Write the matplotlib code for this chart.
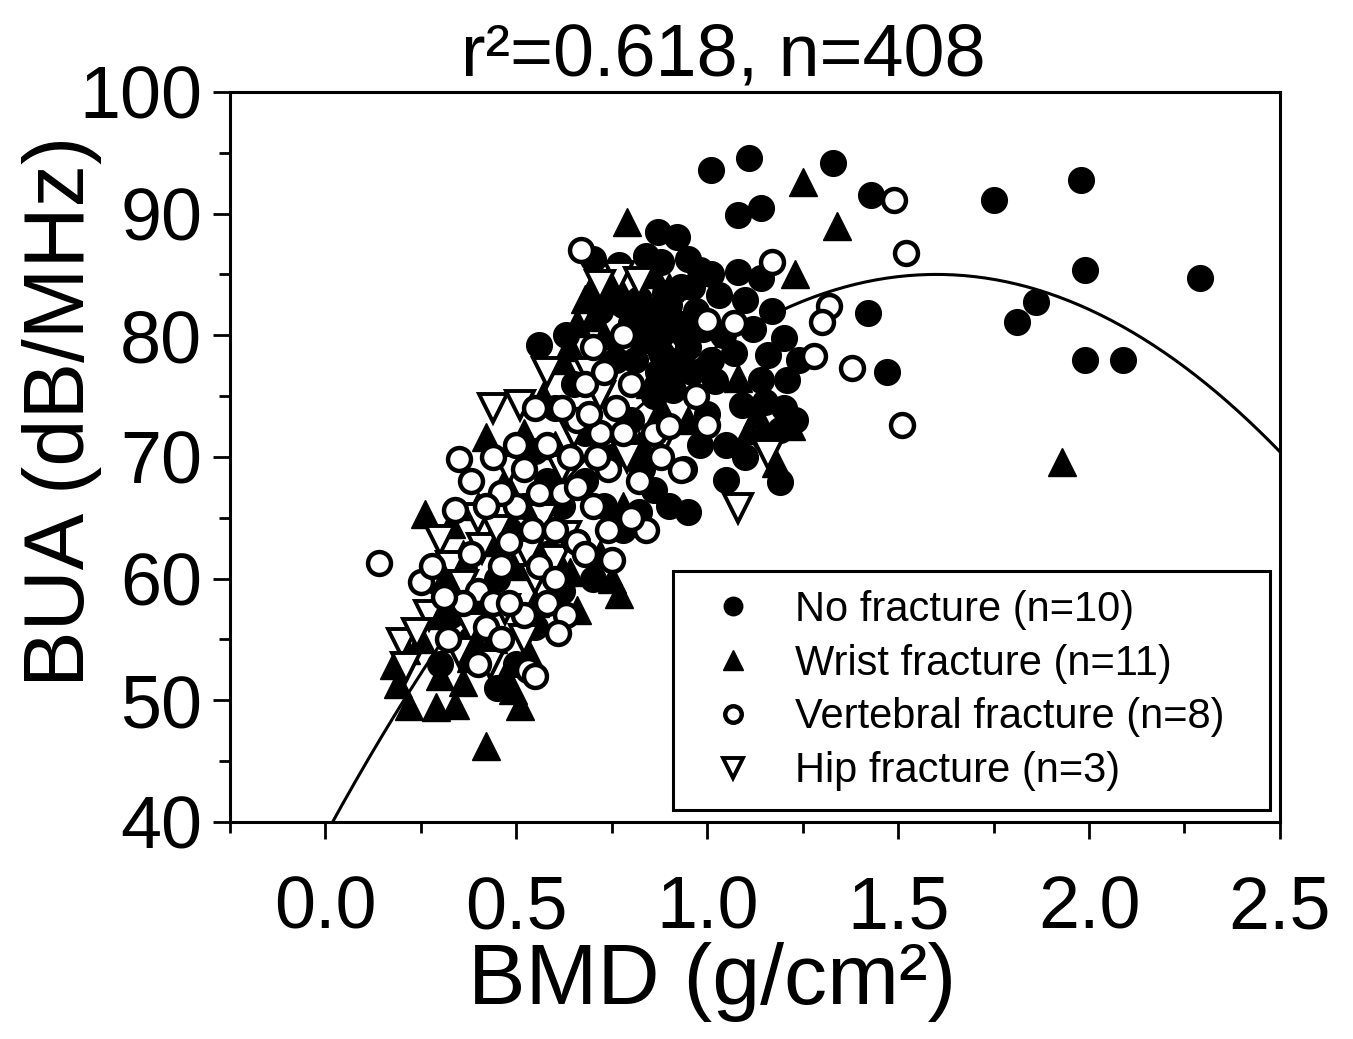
import matplotlib
matplotlib.use("Agg")
import matplotlib.pyplot as plt
import numpy as np

plt.rcParams['font.family'] = ['Liberation Sans', 'DejaVu Sans']

# No fracture (filled circles)
none_x = [1.01, 1.11, 1.08, 1.14, 1.33, 1.43, 1.75, 1.98, 1.99, 2.29, 1.81, 1.86, 1.99, 2.09,
          1.42, 1.47, 1.16, 1.20, 1.19, 1.05, 1.14, 1.15, 1.09, 1.02, 1.01, 0.95, 0.86, 0.56,
          0.70, 0.77, 0.87, 0.92, 0.95, 0.98, 1.01, 1.08, 1.14, 1.03, 1.10, 1.21, 1.24, 1.19,
          0.85, 0.88, 0.90, 0.92, 0.95, 0.97, 0.87, 0.93, 0.89, 0.83, 0.80, 0.96, 0.99, 0.91,
          0.86, 1.00, 0.98, 0.94, 0.90, 0.82, 0.78, 0.73, 0.70, 0.66, 0.62, 0.58, 0.55, 0.52,
          0.48, 0.45, 0.40, 0.38, 0.33, 0.30, 0.60, 0.65, 0.68, 0.75, 0.80, 0.83, 0.63, 0.72,
          0.76, 0.84, 0.88, 1.04, 1.07, 1.12, 1.17, 1.20, 1.23, 1.05, 1.10, 1.15, 0.55, 0.50,
          0.45, 0.62, 0.58, 0.68, 0.82, 0.86, 0.90, 0.94, 0.88, 0.92, 0.84, 0.96, 0.78, 0.81]
none_y = [93.6, 94.6, 89.9, 90.5, 94.2, 91.5, 91.1, 92.8, 85.4, 84.7, 81.1, 82.7, 78.0, 78.0,
          81.8, 77.0, 78.4, 79.8, 67.9, 68.1, 76.3, 74.5, 74.3, 76.2, 78.0, 65.5, 67.3, 79.2,
          86.3, 85.8, 88.5, 88.1, 86.3, 85.4, 85.0, 85.2, 84.7, 83.3, 82.9, 76.3, 78.0, 72.2,
          82.0, 80.0, 78.0, 81.0, 79.0, 82.0, 77.0, 84.0, 83.5, 79.5, 81.0, 77.0, 80.5, 75.5,
          75.0, 73.5, 71.0, 69.0, 66.0, 65.5, 64.0, 66.0, 60.0, 63.0, 66.0, 68.0, 70.5, 66.0,
          64.0, 60.0, 58.0, 55.0, 57.0, 53.0, 74.0, 76.0, 72.0, 70.0, 73.0, 69.0, 80.0, 82.0,
          78.0, 86.5, 86.0, 80.0, 78.5, 80.5, 82.0, 74.0, 73.0, 71.0, 70.0, 71.5, 56.0, 53.0,
          51.0, 59.0, 62.0, 68.0, 83.0, 81.0, 82.5, 80.0, 78.5, 77.5, 80.5, 84.0, 82.5, 78.0]

# Wrist fracture (filled triangles)
wrist_x = [0.79, 1.25, 1.34, 1.23, 1.93, 0.42, 0.42, 0.29, 0.22, 0.34, 0.77, 0.75, 0.66, 0.51,
           0.49, 0.18, 0.19, 0.21, 0.26, 0.70, 1.11, 1.22, 0.68, 0.73, 0.62, 0.57, 0.52, 0.47,
           0.40, 0.36, 0.31, 0.28, 0.25, 0.30, 0.36, 0.38, 0.44, 0.47, 0.53, 0.55, 0.60, 0.64,
           0.72, 0.78, 0.82, 0.85, 0.88, 0.95, 0.90, 0.86, 0.76, 0.66, 0.60, 0.49, 0.43, 0.33,
           1.13, 1.08, 1.18, 0.64, 0.70, 0.74]
wrist_y = [89.3, 92.6, 89.0, 85.0, 69.6, 71.6, 46.2, 49.4, 49.5, 49.6, 58.7, 60.0, 57.4, 49.5,
           50.8, 52.9, 51.3, 54.1, 65.3, 84.1, 72.2, 72.5, 83.0, 80.0, 78.0, 75.0, 72.0, 68.0,
           66.0, 62.0, 60.0, 57.0, 55.0, 52.0, 51.5, 53.5, 55.0, 52.0, 54.0, 58.0, 62.0, 60.5,
           62.0, 66.0, 71.0, 76.0, 74.0, 73.0, 84.0, 85.0, 84.5, 81.0, 71.0, 61.0, 63.0, 64.5,
           73.5, 76.5, 69.5, 79.0, 81.5, 83.0]

# Vertebral fracture (open circles)
vert_x = [0.14, 0.25, 0.67, 1.17, 1.32, 1.30, 1.28, 1.38, 1.49, 1.52, 1.51, 1.00, 1.00, 0.93,
          0.75, 0.34, 0.35, 0.38, 0.40, 0.42, 0.44, 0.46, 0.48, 0.50, 0.52, 0.54, 0.56, 0.58,
          0.60, 0.62, 0.64, 0.66, 0.68, 0.70, 0.72, 0.74, 0.76, 0.78, 0.80, 0.82, 0.84, 0.86,
          0.88, 0.70, 0.66, 0.63, 0.58, 0.55, 0.50, 0.46, 0.42, 0.38, 0.36, 0.32, 0.40, 0.46,
          0.52, 0.53, 0.48, 0.56, 0.60, 0.66, 0.71, 0.74, 0.80, 0.73, 0.62, 0.68, 1.07, 0.90,
          0.97, 0.78, 0.69, 0.61, 0.44, 0.55, 0.31, 0.28]
vert_y = [61.3, 59.7, 87.0, 86.0, 82.4, 81.1, 78.3, 77.3, 91.1, 86.8, 72.6, 72.6, 81.2, 68.9,
          61.5, 65.6, 69.8, 62.0, 59.0, 56.0, 58.0, 61.0, 63.0, 66.0, 69.0, 64.0, 61.0, 58.0,
          64.0, 67.0, 70.0, 73.0, 76.0, 79.0, 72.0, 69.0, 74.0, 72.0, 76.0, 68.0, 64.0, 72.0,
          70.0, 66.0, 63.0, 57.0, 71.0, 74.0, 71.0, 67.0, 66.0, 68.0, 58.0, 55.0, 53.0, 55.0,
          57.0, 52.5, 58.0, 67.0, 60.0, 67.5, 70.0, 64.0, 65.0, 77.0, 74.0, 62.0, 81.0, 72.5,
          75.0, 80.0, 73.5, 55.5, 70.0, 52.0, 58.5, 61.0]

# Hip fracture (open down triangles)
hip_x = [1.16, 1.08, 0.20, 0.21, 0.30, 0.44, 0.51, 0.77, 0.82, 0.72, 0.87, 0.60, 0.27, 0.33,
         0.36, 0.38, 0.41, 0.45, 0.48, 0.53, 0.57, 0.62, 0.65, 0.69, 0.72, 0.58, 0.47, 0.52,
         0.43, 0.35, 0.79, 0.63, 0.55, 0.24, 0.40]
hip_y = [70.2, 65.8, 54.7, 52.7, 63.2, 74.0, 74.3, 84.9, 84.4, 84.1, 70.6, 61.5, 57.0, 61.0,
         59.5, 56.0, 62.5, 64.0, 69.0, 62.0, 65.0, 69.0, 72.0, 77.0, 75.0, 77.0, 57.5, 55.0,
         53.0, 54.0, 70.0, 63.5, 60.0, 55.5, 65.0]

labels = ["No fracture (n=10)", "Wrist fracture (n=11)",
          "Vertebral fracture (n=8)", "Hip fracture (n=3)"]

# quadratic fit BUA = c0 + c1*BMD + c2*BMD^2
fit_coef = [38.92, 57.6, -18.0]

fig, ax = plt.subplots(figsize=(13.53, 10.39), dpi=100)
fig.subplots_adjust(left=0.170, right=0.946, bottom=0.209, top=0.9115)

ms = 18.5
h1, = ax.plot(none_x, none_y, 'o', color='black', ms=ms, ls='none', label=labels[0])
h2, = ax.plot(wrist_x, wrist_y, '^', color='black', ms=ms + 2, ls='none', label=labels[1])
h4, = ax.plot(hip_x, hip_y, 'v', mfc='white', mec='black', mew=2.8, ms=ms + 1, ls='none', label=labels[3])
h3, = ax.plot(vert_x, vert_y, 'o', mfc='white', mec='black', mew=3.2, ms=ms - 2, ls='none', label=labels[2])

xs = np.linspace(-0.25, 2.5, 300)
ax.plot(xs, fit_coef[0] + fit_coef[1] * xs + fit_coef[2] * xs ** 2, color='black', lw=2.2, zorder=1)

ax.set_xlim(-0.25, 2.5)
ax.set_ylim(40, 100)
ax.set_xticks([0.0, 0.5, 1.0, 1.5, 2.0, 2.5])
ax.set_xticklabels(["0.0", "0.5", "1.0", "1.5", "2.0", "2.5"])
ax.set_xticks(np.arange(-0.25, 2.6, 0.5), minor=True)
ax.set_yticks([40, 50, 60, 70, 80, 90, 100])
ax.set_yticks([45, 55, 65, 75, 85, 95], minor=True)

for s in ax.spines.values():
    s.set_linewidth(2.2)
ax.tick_params(which='major', direction='out', length=12, width=2.0, labelsize=53, pad=8)
ax.tick_params(which='minor', direction='out', length=8, width=2.0)
ax.tick_params(axis='x', which='major', pad=26)

ax.set_xlabel("BMD (g/cm²)", fontsize=62)
ax.xaxis.set_label_coords(0.459, -0.165)
ax.set_ylabel("BUA (dB/MHz)", fontsize=61)
ax.yaxis.set_label_coords(-0.122, 0.562)
ax.set_title("r²=0.618, n=408", fontsize=53, pad=12, x=0.47)

leg = ax.legend(handles=[h1, h2, h3, h4], loc='lower left',
                bbox_to_anchor=(0.422, 0.0164, 0.569, 0.3), mode='expand',
                borderaxespad=0, fontsize=30, frameon=True, fancybox=False,
                handlelength=2.0, handletextpad=0.48, labelspacing=0.33, borderpad=0.45,
                markerscale=0.72)
leg.get_frame().set_edgecolor('black')
leg.get_frame().set_linewidth(2.2)
leg.get_frame().set_alpha(1)

fig.savefig("out.png", dpi=100)
